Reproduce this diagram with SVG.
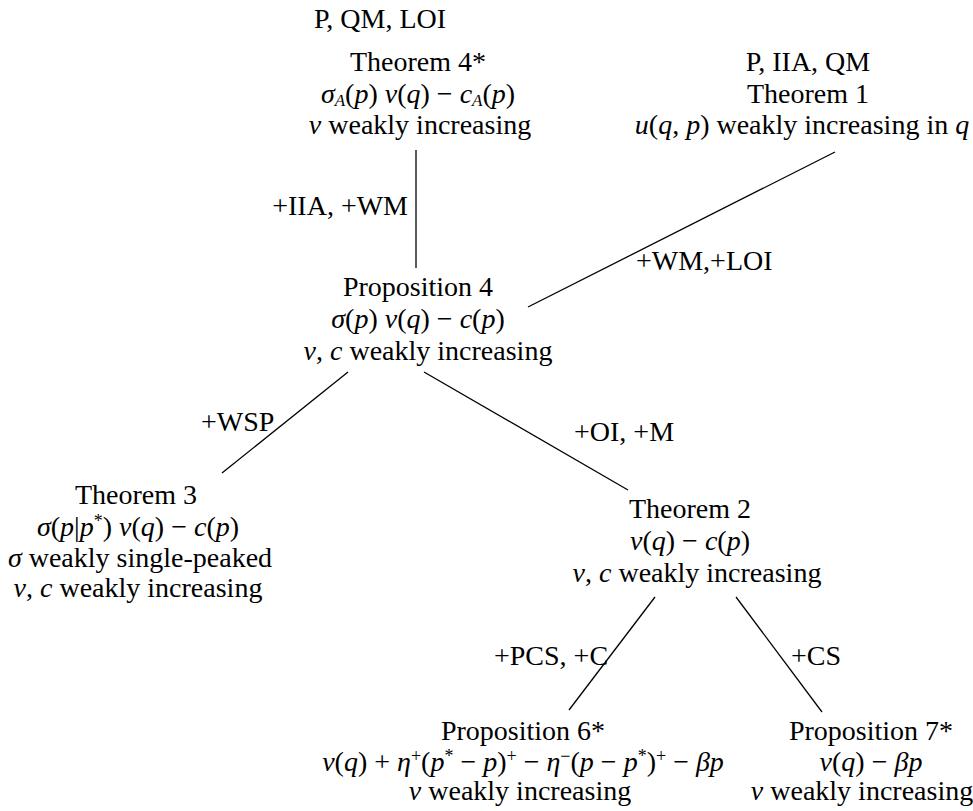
<svg xmlns="http://www.w3.org/2000/svg" width="973" height="811" viewBox="0 0 973 811" font-family="'Liberation Serif', 'DejaVu Serif', serif">
<style>
text { font-family: 'Liberation Serif', 'DejaVu Serif', serif; font-size: 28px; fill: #000; text-anchor: middle; }
text.l { text-anchor: start; }
text.r { text-anchor: end; }
.i { font-style: italic; }
.sup { font-size: 18px; baseline-shift: 9px; }
.sub { font-size: 17px; baseline-shift: -3px; font-style: italic; }
.edge { stroke: #000; stroke-width: 1.3; fill: none; }
</style>
<rect width="973" height="811" fill="#fff"/>
<g id="connectors">
  <line class="edge" x1="416" y1="150" x2="416" y2="268"/>
  <line class="edge" x1="835" y1="152" x2="528" y2="307"/>
  <line class="edge" x1="348" y1="372" x2="222" y2="473"/>
  <line class="edge" x1="424" y1="372" x2="628" y2="490"/>
  <line class="edge" x1="655" y1="597" x2="569" y2="710"/>
  <line class="edge" x1="736" y1="597" x2="822" y2="712"/>
  <text class="r" x="408" y="215">+IIA, +WM</text>
  <text class="l" x="636" y="270">+WM,+LOI</text>
  <text class="l" x="201" y="431">+WSP</text>
  <text class="l" x="574" y="441">+OI, +M</text>
  <text class="l" x="494" y="665">+PCS, +C</text>
  <text class="l" x="791" y="665">+CS</text>
</g>
<g id="theorem4">
  <text x="380" y="28">P, QM, LOI</text>
  <text x="418" y="71">Theorem 4*</text>
  <text x="418" y="103"><tspan class="i">σ</tspan><tspan class="sub">A</tspan>(<tspan class="i">p</tspan>) <tspan class="i">v</tspan>(<tspan class="i">q</tspan>) − <tspan class="i">c</tspan><tspan class="sub">A</tspan>(<tspan class="i">p</tspan>)</text>
  <text x="420" y="134"><tspan class="i">v</tspan> weakly increasing</text>
</g>
<g id="theorem1">
  <text x="808" y="71">P, IIA, QM</text>
  <text x="808" y="103">Theorem 1</text>
  <text x="802" y="134"><tspan class="i">u</tspan>(<tspan class="i">q</tspan>, <tspan class="i">p</tspan>) weakly increasing in <tspan class="i">q</tspan></text>
</g>
<g id="proposition4">
  <text x="418" y="296">Proposition 4</text>
  <text x="418" y="328"><tspan class="i">σ</tspan>(<tspan class="i">p</tspan>) <tspan class="i">v</tspan>(<tspan class="i">q</tspan>) − <tspan class="i">c</tspan>(<tspan class="i">p</tspan>)</text>
  <text x="428" y="360"><tspan class="i">v</tspan>, <tspan class="i">c</tspan> weakly increasing</text>
</g>
<g id="theorem3">
  <text x="136" y="504">Theorem 3</text>
  <text x="138" y="536"><tspan class="i">σ</tspan>(<tspan class="i">p</tspan>|<tspan class="i">p</tspan><tspan class="sup">*</tspan>) <tspan class="i">v</tspan>(<tspan class="i">q</tspan>) − <tspan class="i">c</tspan>(<tspan class="i">p</tspan>)</text>
  <text x="140" y="567"><tspan class="i">σ</tspan> weakly single-peaked</text>
  <text x="138" y="597"><tspan class="i">v</tspan>, <tspan class="i">c</tspan> weakly increasing</text>
</g>
<g id="theorem2">
  <text x="690" y="518">Theorem 2</text>
  <text x="690" y="550"><tspan class="i">v</tspan>(<tspan class="i">q</tspan>) − <tspan class="i">c</tspan>(<tspan class="i">p</tspan>)</text>
  <text x="697" y="582"><tspan class="i">v</tspan>, <tspan class="i">c</tspan> weakly increasing</text>
</g>
<g id="proposition6">
  <text x="523" y="740">Proposition 6*</text>
  <text x="523" y="771"><tspan class="i">v</tspan>(<tspan class="i">q</tspan>) + <tspan class="i">η</tspan><tspan class="sup">+</tspan>(<tspan class="i">p</tspan><tspan class="sup">*</tspan> − <tspan class="i">p</tspan>)<tspan class="sup">+</tspan> − <tspan class="i">η</tspan><tspan class="sup">−</tspan>(<tspan class="i">p</tspan> − <tspan class="i">p</tspan><tspan class="sup">*</tspan>)<tspan class="sup">+</tspan> − <tspan class="i">βp</tspan></text>
  <text x="520" y="800"><tspan class="i">v</tspan> weakly increasing</text>
</g>
<g id="proposition7">
  <text x="871" y="740">Proposition 7*</text>
  <text x="871" y="771"><tspan class="i">v</tspan>(<tspan class="i">q</tspan>) − <tspan class="i">βp</tspan></text>
  <text x="862" y="800"><tspan class="i">v</tspan> weakly increasing</text>
</g>
</svg>
